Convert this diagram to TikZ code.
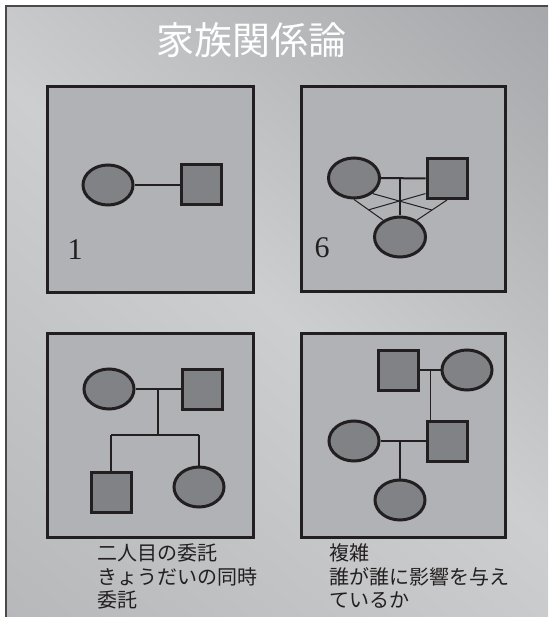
\documentclass[tikz,border=0pt]{standalone}
\usepackage{fontspec}
\newfontfamily\cjk{Noto Sans CJK JP}
\newfontfamily\numfont{Liberation Serif}
\usetikzlibrary{shapes.geometric,calc}
\definecolor{bgL}{HTML}{CDCECF}
\definecolor{bgM}{HTML}{AEAFB2}
\definecolor{bgD}{HTML}{96979B}
\definecolor{panelfill}{HTML}{B1B2B6}
\definecolor{shapefill}{HTML}{818286}
\definecolor{ink}{HTML}{231F20}
\definecolor{framegray}{HTML}{4A4A4C}
\pgfdeclarehorizontalshading{bgsh}{100bp}{color(0bp)=(bgM); color(50bp)=(bgL); color(100bp)=(bgD)}
\begin{document}
\begin{tikzpicture}[x=1pt,y=-1pt,
  panel/.style={draw=ink,line width=3pt,fill=panelfill},
  fem/.style={ellipse,draw=ink,line width=3pt,fill=shapefill,minimum width=50pt,minimum height=40pt,inner sep=0pt},
  mal/.style={rectangle,draw=ink,line width=3pt,fill=shapefill,minimum width=40pt,minimum height=40pt,inner sep=0pt},
  wed/.style={draw=ink,line width=2pt},
  kid/.style={draw=ink,line width=1.3pt},
  rel/.style={draw=ink,line width=1pt},
  num/.style={font=\numfont\fontsize{30}{30}\selectfont,text=ink,inner sep=0pt},
  captxt/.style={font=\cjk\fontsize{20}{23}\selectfont,text=ink,anchor=west,inner sep=0pt}]
\useasboundingbox (0,0) rectangle (548,617);
\fill[white] (0,0) rectangle (548,617);
\shade[shading=bgsh,shading angle=50] (6,6) rectangle (548,617);
\draw[framegray,line width=1.5pt] (6,617) -- (6,6) -- (548,6);
\node[text=white,font=\cjk\fontsize{38}{38}\selectfont,inner sep=0pt] (title) at (251,40) {家族関係論};
% panels
\draw[panel] (47,87) rectangle (253,292);
\draw[panel] (301,87) rectangle (505,291);
\draw[panel] (47,333) rectangle (253,537);
\draw[panel] (301,333) rectangle (505,537);
% panel 1
\node[fem] (e1) at (108,185) {};
\node[mal] (s1) at (201,185) {};
\draw[kid] (e1) -- (s1);
\node[num] (n1) at (75,250) {1};
% panel 2
\node[fem,minimum width=51pt] (e2a) at (354,178) {};
\node[mal] (s2) at (447,178.5) {};
\node[fem,minimum width=51pt] (e2c) at (400,237) {};
\draw[wed] (e2a.east) -- (s2.west);
\coordinate (m2) at (e2c.north |- e2a.east);
\draw[wed] (m2) -- (e2c.north);
\coordinate (ac) at ($(e2a.south)!0.5!(e2c.135)$);
\coordinate (bc) at ($(s2.south)!0.5!(e2c.45)$);
\draw[rel] (e2a.south) -- (e2c.135);
\draw[rel] (s2.south) -- (e2c.45);
\draw[rel] (e2a.-40) -- (bc);
\draw[rel] (s2.-145) -- (ac);
\node[num] (n6) at (322,248) {6};
% panel 3
\node[fem] (e3a) at (109,389) {};
\node[mal] (s3a) at (202,389) {};
\node[mal] (s3b) at (111,492) {};
\node[fem] (e3b) at (199,487) {};
\draw[wed] (e3a.east) -- (s3a.west);
\coordinate (m3) at ($(e3a.east)!0.5!(s3a.west)$);
\coordinate (j3) at ($(m3)+(0,46)$);
\draw[wed] (m3) -- (j3);
\draw[wed] (s3b.north |- j3) -- (e3b.north |- j3);
\draw[kid] (s3b.north |- j3) -- (s3b.north);
\draw[kid] (e3b.north |- j3) -- (e3b.north);
% panel 4
\node[mal] (s4a) at (398.5,370) {};
\node[fem] (e4a) at (467,370) {};
\node[fem] (e4b) at (354,441) {};
\node[mal] (s4b) at (447,441) {};
\node[fem] (e4c) at (400,500) {};
\draw[wed] (s4a.east) -- (e4a.west);
\coordinate (m4a) at ($(s4a.east)!0.5!(e4a.west)$);
\draw[kid] (m4a) -- (m4a |- s4b.north);
\draw[wed] (e4b.east) -- (s4b.west);
\coordinate (m4b) at (e4c.north |- e4b.east);
\draw[wed] (m4b) -- (e4c.north);
% captions
\node[captxt] (c1) at (97,553) {二人目の委託};
\node[captxt] (c2) at (97,577) {きょうだいの同時};
\node[captxt] (c3) at (97,600) {委託};
\node[captxt] (d1) at (329,553) {複雑};
\node[captxt] (d2) at (329,577) {誰が誰に影響を与え};
\node[captxt] (d3) at (329,600) {ているか};
\end{tikzpicture}
\end{document}
